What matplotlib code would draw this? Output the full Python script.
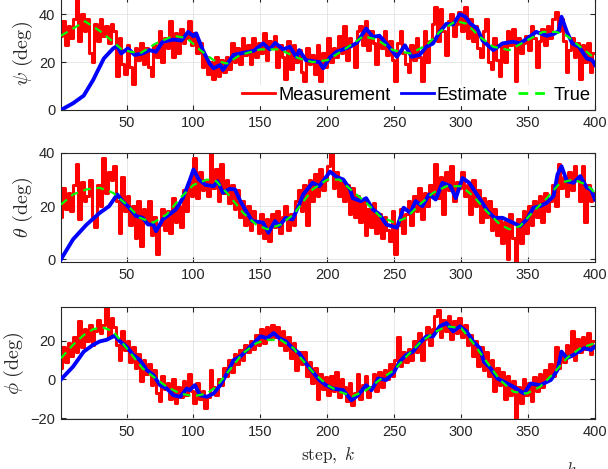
#!/usr/bin/env python
import numpy as np
import matplotlib
matplotlib.use("Agg")
import matplotlib.pyplot as plt

plt.rcParams['font.family'] = ['Liberation Sans', 'DejaVu Sans']
plt.rcParams['mathtext.fontset'] = 'cm'

# measurements, read every 2nd step (k = 1, 3, ..., 399)
k_meas = list(range(1, 400, 2))
psi_meas = [31, 37, 27, 35, 30, 38, 46, 29, 40, 33,
            38, 24, 20, 36, 29, 38, 31, 35, 28, 36,
            33, 14, 30, 19, 15, 27, 18, 11, 26, 21,
            28, 19, 26, 18, 14, 27, 22, 33, 20, 30,
            26, 37, 22, 32, 24, 34, 28, 30, 37, 27,
            32, 24, 28, 18, 22, 15, 20, 13, 22, 14,
            21, 16, 22, 17, 28, 20, 26, 19, 30, 23,
            27, 19, 30, 22, 28, 24, 32, 21, 29, 26,
            31, 18, 27, 22, 13, 29, 17, 27, 20, 25,
            16, 12, 26, 19, 23, 15, 27, 12, 24, 18,
            30, 20, 26, 22, 31, 24, 35, 21, 30, 27,
            18, 33, 35, 27, 37, 25, 33, 28, 19, 30,
            26, 33, 23, 29, 21, 12, 28, 33, 24, 19,
            16, 27, 21, 30, 22, 12, 33, 20, 29, 36,
            43, 29, 42, 33, 23, 37, 40, 31, 36, 41,
            33, 43, 30, 38, 29, 35, 26, 22, 33, 38,
            20, 17, 30, 21, 14, 28, 20, 33, 27, 34,
            12, 30, 24, 28, 31, 25, 35, 30, 18, 29,
            34, 27, 35, 30, 38, 41, 33, 38, 29, 16,
            25, 30, 22, 28, 13, 27, 20, 28, 16, 24]
theta_meas = [16, 27, 19, 25, 18, 28, 36, 15, 29, 22,
              24, 30, 16, 12, 28, 20, 38, 25, 33, 30,
              35, 22, 10, 31, 18, 24, 13, 20, 8, 22,
              5, 19, 14, 22, 9, 16, 2, 13, 19, 11,
              18, 10, 23, 14, 20, 12, 26, 18, 29, 24,
              38, 23, 33, 26, 30, 24, 40, 27, 34, 22,
              36, 25, 30, 21, 28, 19, 26, 16, 22, 13,
              20, 11, 18, 14, 10, 17, 8, 15, 7, 17,
              12, 18, 10, 16, 20, 11, 17, 13, 22, 26,
              18, 28, 13, 30, 22, 32, 24, 34, 26, 30,
              35, 40, 27, 33, 24, 30, 22, 28, 17, 27,
              16, 24, 14, 22, 9, 19, 12, 21, 10, 17,
              8, 16, 11, 7, 18, 2, 13, 19, 10, 17,
              22, 13, 24, 18, 27, 15, 25, 20, 28, 24,
              36, 23, 31, 17, 33, 26, 35, 22, 29, 27,
              33, 24, 28, 17, 30, 20, 26, 14, 23, 16,
              22, 11, 19, 9, 16, 6, 14, 0, 17, 8,
              -2, 15, 6, 18, 10, 20, 13, 22, 16, 24,
              14, 25, 18, 22, 28, 20, 36, 27, 31, 24,
              33, 26, 35, 30, 22, 35, 14, 28, 22, 25]
phi_meas = [6, 17, 9, 19, 12, 22, 14, 30, 17, 26,
            20, 28, 18, 25, 31, 24, 28, 37, 22, 32,
            27, 18, 10, 25, 15, 20, 9, 17, 6, 13,
            -1, 10, 3, 8, -3, 5, -7, -11, 2, -5,
            -2, -10, 0, -12, -4, -9, -1, -8, 3, -6,
            -12, -2, -10, -6, -15, -9, 5, -4, -8, 0,
            -3, 6, 2, 10, 4, 13, 8, 15, 10, 18,
            14, 20, 16, 23, 18, 26, 19, 27, 21, 28,
            22, 27, 18, 25, 15, 22, 11, 19, 5, 14,
            8, 14, 2, 9, -2, 6, -10, 3, -5, 1,
            -8, 2, -6, 4, -9, 0, -4, -11, -2, -13,
            -7, 3, -10, -3, 2, -9, -4, 3, -6, 4,
            -4, 5, 0, 8, 2, 10, 22, 7, 14, 9,
            16, 10, 20, 14, 24, 10, 21, 27, 18, 26,
            33, 36, 22, 31, 25, 33, 21, 30, 24, 32,
            22, 28, 18, 23, 12, 20, 7, 17, 5, 14,
            2, 10, -6, 6, -3, 4, -10, 2, -8, -1,
            -20, -4, -12, 0, -8, -2, -11, 1, -6, 3,
            -4, 5, 0, 8, 2, 17, 6, 12, 9, 18,
            12, 25, 10, 21, 14, 22, 16, 24, 13, 20]

# estimates (read at turning points)
k_psi_est = [1, 10, 18, 25, 33, 40, 43, 46, 51, 56, 62, 67, 72, 77, 85, 91, 96, 100, 102, 107,
             112, 115, 120, 122, 130, 135, 145, 152, 157, 161, 167, 172, 177, 179, 184, 194, 197,
             202, 207, 217, 222, 229, 234, 239, 244, 252, 258, 263, 269, 274, 279, 284, 289, 294,
             299, 303, 307, 312, 316, 324, 331, 339, 344, 351, 356, 364, 369, 373, 375, 379, 383,
             388, 394, 398, 400]
psi_est = [0, 2.8, 6, 12.5, 21.5, 25.7, 26.7, 23.6, 25.7, 23, 23.6, 25, 24.3, 28.5, 29.4, 29, 32.6,
           30.8, 32, 25, 19.4, 17.4, 18.8, 16.7, 23, 23.6, 24.7, 27.8, 25.3, 28, 25.3, 26.4, 22, 25,
           20.8, 20, 17.4, 22, 24.3, 26.4, 28, 34, 30.5, 31, 27.8, 22.2, 27, 22.2, 23, 26.4, 27.8,
           32.6, 36, 35.7, 40, 39, 36, 34, 29, 25, 27.8, 28.5, 27.8, 30.5, 32.6, 31, 31.7, 33, 38.9,
           32.6, 27.8, 26.4, 21.5, 20.8, 18.8]
k_theta_est = [1, 10, 20, 30, 37, 43, 47, 52, 57, 62, 66, 70, 72, 77, 82, 87, 92, 97, 100, 104, 109,
               115, 118, 122, 127, 131, 135, 140, 144, 152, 156, 161, 164, 169, 174, 179, 182, 189,
               194, 202, 207, 212, 217, 219, 225, 229, 234, 239, 244, 252, 257, 262, 266, 271, 276,
               281, 286, 292, 296, 301, 306, 311, 315, 320, 325, 331, 336, 344, 349, 354, 359, 364,
               369, 372, 375, 379, 384, 389, 394, 397, 400]
theta_est = [0, 7.5, 13, 17.5, 20, 24.4, 21.9, 19.4, 16.3, 15.6, 13.1, 13.1, 10.6, 15, 16.9, 18.8,
             23, 29.4, 33.8, 30, 28, 27.5, 29.4, 25, 26.5, 26.3, 21.9, 17.5, 14.4, 13.8, 10, 14.4,
             12.5, 15.6, 15, 20.6, 24.4, 28.8, 27.5, 33, 31, 30, 26.3, 23, 21.9, 23, 18.8, 16.9, 13.1,
             11.9, 19.4, 17.5, 21.9, 20, 24.4, 22.5, 28.8, 27.5, 23, 30.6, 28.8, 25, 21.9, 18, 15.6,
             15.6, 14.4, 12.5, 15, 19.4, 20, 21.3, 23.8, 31.9, 35, 29.4, 28.8, 31.3, 26.9, 26.3, 22.5]
k_phi_est = [1, 10, 18, 25, 30, 35, 41, 45, 50, 55, 60, 65, 70, 75, 80, 85, 90, 95, 97, 101, 105,
             110, 115, 120, 125, 130, 135, 140, 145, 150, 155, 160, 164, 169, 174, 179, 184, 189,
             194, 199, 204, 212, 218, 223, 229, 233, 238, 244, 250, 254, 259, 264, 269, 274, 279,
             284, 289, 294, 299, 304, 309, 314, 317, 322, 327, 332, 339, 347, 352, 359, 367, 372,
             375, 379, 384, 392, 397, 400]
phi_est = [0, 6.6, 14.4, 17.9, 19.7, 20.5, 22.6, 19.7, 17, 12.7, 10, 4.9, 2.3, -3, -4.7, -8.2, -9,
           -4.7, -5.6, -3, -8.2, -9, -7.3, -3, 3.1, 10, 11.8, 15.3, 18.8, 22.3, 21.4, 24, 21.4, 19.7,
           16.2, 13.6, 8.3, 4, -0.3, -3, -4.7, -5.6, -10.8, -8.2, -3, -5.6, 0.5, -0.3, 4, 9.2, 12.7,
           14.4, 18.8, 22.3, 22.3, 27.5, 29.2, 24.9, 27.5, 24.9, 19.7, 16.2, 9.2, 5.7, 0.5, -1.2,
           -3.8, -7.3, -2.1, -3, -0.3, 4.9, 14.4, 11, 12.7, 16.2, 15.3, 17]

# true values
k_psi_true = [1, 10, 19, 30, 38, 47, 60, 72, 85, 95, 105, 115, 125, 135, 150, 164, 179, 189, 200,
              212, 227, 237, 249, 262, 274, 284, 296, 304, 314, 324, 336, 349, 361, 371, 379, 389, 400]
psi_true = [31, 34, 37, 33, 29.4, 25, 23.6, 27.8, 31, 30, 25, 20.8, 19.4, 23, 25.3, 25.3, 21.5, 20,
            20.8, 25, 30.8, 29.4, 25, 23.6, 27, 32.6, 37.2, 36, 30.5, 26.4, 25, 29, 32.6, 32.6, 31,
            26.4, 21.5]
k_theta_true = [1, 10, 20, 30, 40, 50, 60, 70, 80, 90, 100, 110, 117, 127, 137, 147, 155, 165, 175,
                189, 200, 209, 219, 229, 239, 250, 259, 269, 279, 289, 300, 309, 319, 329, 336, 344,
                354, 364, 374, 384, 394, 400]
theta_true = [20.6, 24.4, 26.3, 26.9, 25, 20.6, 15.6, 13.8, 16.9, 23, 28, 30, 29.4, 23.8, 17.5, 13,
              11.3, 13, 17, 26.3, 30, 30, 25.6, 21.3, 16.3, 13.8, 15.6, 20.6, 25, 27.5, 27.5, 23.8,
              18.1, 13.1, 11.3, 12.5, 18, 23, 28.8, 30, 28, 25]
k_phi_true = [1, 10, 18, 25, 32, 40, 47, 55, 62, 70, 80, 90, 100, 110, 117, 127, 137, 147, 155, 165,
              175, 179, 189, 200, 209, 219, 229, 239, 250, 259, 269, 279, 289, 300, 309, 319, 329,
              339, 349, 359, 369, 379, 389, 400]
phi_true = [11, 17.9, 23, 26, 27, 24.9, 18.8, 11.8, 5.7, 1.4, -3.8, -7.3, -8.7, -7.3, -3.8, 4.9,
            13.6, 18.8, 20.5, 20.5, 16, 12, 4, -3, -6.4, -8.7, -5.6, -0.3, 4.9, 11.8, 18.8, 24, 27.5,
            26.6, 18.8, 9.2, -0.3, -6.4, -7.3, -3.8, 3.1, 11, 16.2, 18.8]

ylabels = [r'$\psi\ (\mathrm{deg})$', r'$\theta\ (\mathrm{deg})$', r'$\phi\ (\mathrm{deg})$']
yticks = [[0, 20, 40], [0, 20, 40], [-20, 0, 20]]
ylims = [(0, 47), (-1, 40), (-20.5, 37.5)]
# axes rectangles in figure fraction
rects = [[0.1003, 0.7655, 0.8783, 0.2400],
         [0.1003, 0.4414, 0.8783, 0.2324],
         [0.1003, 0.1066, 0.8783, 0.2388]]

series = [(psi_meas, k_psi_est, psi_est, k_psi_true, psi_true),
          (theta_meas, k_theta_est, theta_est, k_theta_true, theta_true),
          (phi_meas, k_phi_est, phi_est, k_phi_true, phi_true)]

dark = '#262626'
fig = plt.figure(figsize=(6.08, 4.69), dpi=100)

for i in range(3):
  ax = fig.add_axes(rects[i])
  meas, ke, est, kt, tru = series[i]
  ax.plot(k_meas, meas, color='red', lw=2.2, drawstyle='steps-mid', label='Measurement', zorder=2)
  ax.plot(ke, est, color='blue', lw=2.8, label='Estimate', zorder=3)
  ax.plot(kt, tru, color=(0, 1, 0), lw=1.6, ls=(0, (3.5, 2.5)), label='True', zorder=4)
  ax.set_xlim(1, 400)
  ax.set_ylim(*ylims[i])
  ax.set_xticks(range(50, 401, 50))
  ax.set_yticks(yticks[i])
  ax.grid(True, color='#e3e3e3', lw=0.6)
  ax.set_axisbelow(True)
  ax.tick_params(direction='in', length=3.5, width=0.8, colors=dark, labelsize=10.5,
                 top=True, right=True, pad=4)
  for s in ax.spines.values():
    s.set_color(dark)
    s.set_linewidth(0.8)
  ax.set_ylabel(ylabels[i], fontsize=14.5, color=dark, labelpad=3)
  if i == 0:
    leg = ax.legend(loc='lower right', ncol=3, fontsize=13.2, frameon=True, fancybox=False,
                    handlelength=1.8, handletextpad=0.15, columnspacing=0.55,
                    borderaxespad=0.0, borderpad=0.1, bbox_to_anchor=(0.995, 0.04))
    leg.get_frame().set_facecolor('white')
    leg.get_frame().set_edgecolor('white')
    leg.get_frame().set_alpha(1)
    for h in leg.get_lines():
      h.set_linewidth(2.0)
  if i == 2:
    ax.set_xlabel(r'$\mathrm{step},\ k$', fontsize=12.5, color=dark, labelpad=5)

# cut-off glyph at the lower right edge
fig.text(566 / 608, 8 / 469, r'$k$', fontsize=12, va='top', ha='left', color=dark)

fig.savefig('out.png', dpi=100)
